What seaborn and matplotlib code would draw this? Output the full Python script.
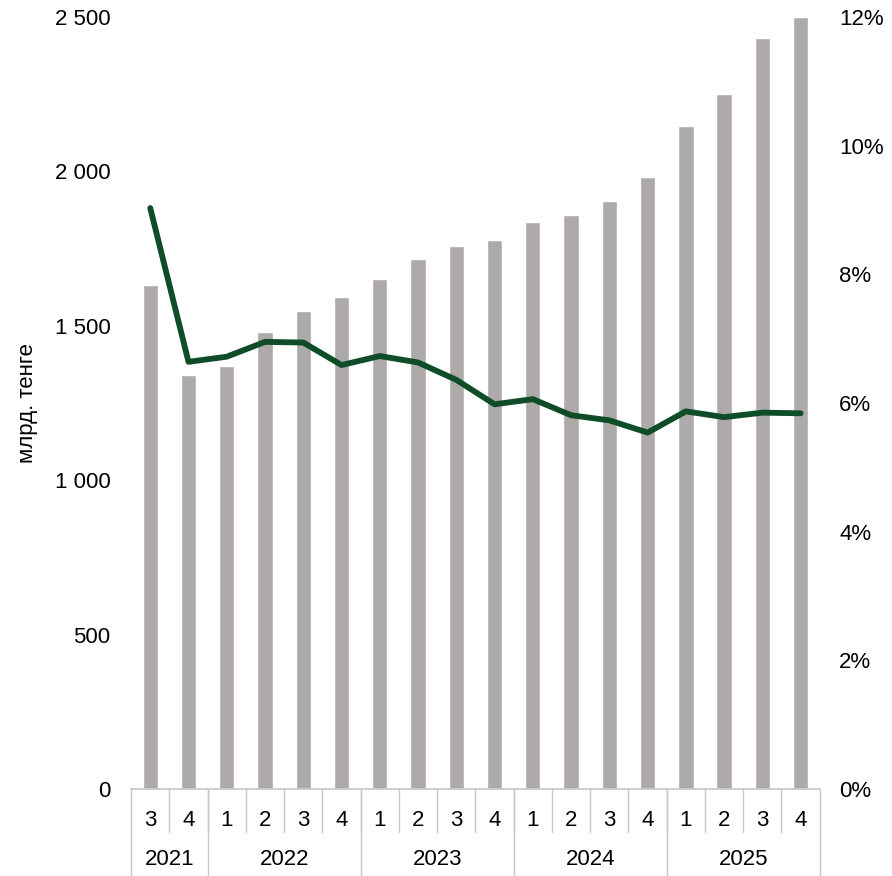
import numpy as np
import pandas as pd
import seaborn as sns
import matplotlib.pyplot as plt
from matplotlib.ticker import FuncFormatter, MultipleLocator
import matplotlib.transforms as mtransforms

#%% data

quarters = ["3", "4", "1", "2", "3", "4", "1", "2", "3", "4",
            "1", "2", "3", "4", "1", "2", "3", "4"]
years = ["2021", "2022", "2023", "2024", "2025"]
year_spans = [2, 4, 4, 4, 4]   # quarters per year group

volume = [1632, 1341, 1370, 1480, 1547, 1594, 1652, 1715, 1759,
          1778, 1835, 1858, 1904, 1981, 2147, 2250, 2432, 2500]   # млрд. тенге
share = [9.03, 6.64, 6.72, 6.95, 6.94, 6.59, 6.73, 6.63, 6.36,
         5.98, 6.06, 5.81, 5.73, 5.54, 5.87, 5.78, 5.85, 5.84]    # %

df = pd.DataFrame({"pos": np.arange(len(volume)), "volume": volume, "share": share})

#%% style

sns.set_theme(style="white")
plt.rcParams["font.family"] = ["Liberation Sans", "DejaVu Sans"]
plt.rcParams["text.color"] = "black"
plt.rcParams["axes.labelcolor"] = "black"
plt.rcParams["xtick.color"] = "black"
plt.rcParams["ytick.color"] = "black"
bar_color = "#AEAAA9"
line_color = "#0E4D28"
axis_color = "#C8C8C8"
fs = 16

fig = plt.figure(figsize=(8.92, 8.76), dpi=100)
ax = fig.add_axes([0.147, 0.0993, 0.772, 0.8813])

sns.barplot(data=df, x="pos", y="volume", color=bar_color, width=0.4,
            saturation=1, ax=ax)
ax.set_ylim(0, 2500)
ax.set_xlim(-0.5, len(volume) - 0.5)
ax.yaxis.set_major_locator(MultipleLocator(500))
ax.yaxis.set_major_formatter(FuncFormatter(lambda v, p: f"{int(v):,}".replace(",", " ")))
ax.set_ylabel("млрд. тенге", fontsize=fs, labelpad=12)
ax.set_xlabel("")
ax.tick_params(axis="y", length=0, labelsize=fs, pad=15)

# quarter labels as ticks, separators drawn below the axis
ax.set_xticks(df["pos"])
ax.set_xticklabels(quarters)
ax.tick_params(axis="x", length=0, labelsize=fs, pad=15)
for s in ["top", "left", "right"]:
    ax.spines[s].set_visible(False)
ax.spines["bottom"].set_color(axis_color)

trans = mtransforms.blended_transform_factory(ax.transData, ax.transAxes)
for i in range(1, len(quarters)):
    ax.plot([i - 0.5, i - 0.5], [0, -0.056], color=axis_color, lw=1,
            transform=trans, clip_on=False)
start = -0.5
for yr, span in zip(years, year_spans):
    ax.plot([start, start], [0, -0.115], color=axis_color, lw=1,
            transform=trans, clip_on=False)
    ax.text(start + span / 2, -0.091, yr, transform=trans, ha="center",
            va="center", fontsize=fs)
    start += span
ax.plot([start, start], [0, -0.115], color=axis_color, lw=1,
        transform=trans, clip_on=False)

# share on the right axis
ax2 = ax.twinx()
sns.lineplot(data=df, x="pos", y="share", color=line_color, lw=4.2,
             ax=ax2, solid_capstyle="round", solid_joinstyle="round")
ax2.set_ylim(0, 12)
ax2.yaxis.set_major_locator(MultipleLocator(2))
ax2.yaxis.set_major_formatter(FuncFormatter(lambda v, p: f"{int(v)}%"))
ax2.tick_params(axis="y", length=0, labelsize=fs, pad=14)
ax2.set_ylabel("")
for s in ["top", "left", "right", "bottom"]:
    ax2.spines[s].set_visible(False)

fig.savefig("out.png", dpi=100)
